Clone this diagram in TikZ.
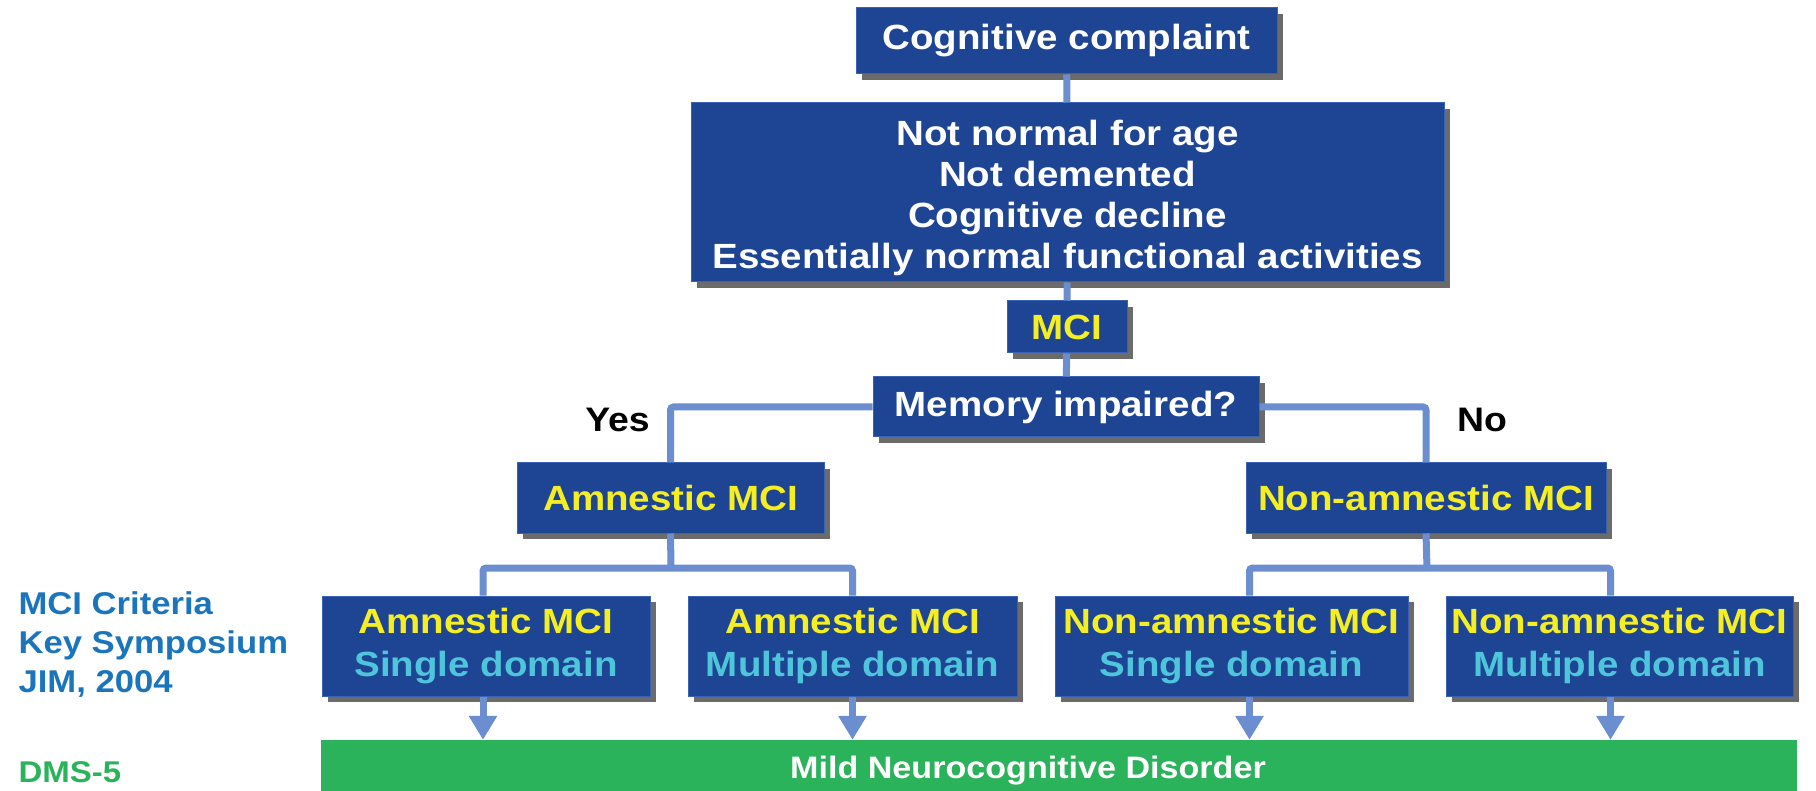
\documentclass[tikz,border=0pt]{standalone}
\usepackage{fontspec}
\setmainfont{Liberation Sans}[FakeStretch=1.1]
\usetikzlibrary{arrows.meta,shadows}

\begin{document}
\begin{tikzpicture}[x=1pt,y=1pt,
    box/.style={draw=boxEdge, line width=1pt, fill=boxFill, inner sep=0pt, align=center,
        font=\fontsize{35}{41}\selectfont\bfseries,
        drop shadow={shadow xshift=6pt, shadow yshift=-6pt, fill=boxShadow, opacity=1}},
    subbox/.style={box, minimum height=100pt, font=\fontsize{35}{43}\selectfont\bfseries},
    link/.style={draw=linkColour, line width=7pt, rounded corners=3pt},
    linkarrow/.style={link, -{Triangle[width=27pt,length=24pt]}},
    answer/.style={font=\fontsize{34}{40}\selectfont\bfseries},
    sidenote/.style={anchor=west, align=left, font=\fontsize{31.5}{39}\selectfont\bfseries}]

    % Colours
    \definecolor{boxFill}{HTML}{1E4594}
    \definecolor{boxEdge}{HTML}{3A62B4}
    \definecolor{boxShadow}{HTML}{6B6B6B}
    \definecolor{linkColour}{HTML}{6A8ED0}
    \definecolor{mciYellow}{HTML}{F5EE23}
    \definecolor{domainCyan}{HTML}{4EC5DA}
    \definecolor{dsmGreen}{HTML}{2BB35B}
    \definecolor{noteBlue}{HTML}{1B75BC}

    % Fix the page size
    \useasboundingbox (0,0) rectangle (1816,-791);

    % Top boxes
    \node[box, text=white, minimum width=421pt, minimum height=66pt] (cc) at (1066.5,-41) {Cognitive complaint};
    \node[box, text=white, minimum width=753pt, minimum height=179pt] (crit) at (1067.5,-192.5)
        {\rule{0pt}{36pt}Not normal for age\\Not demented\\Cognitive decline\\Essentially normal functional activities};
    \node[box, text=mciYellow, minimum width=120pt, minimum height=52pt] (mci) at (1067,-327) {MCI};
    \node[box, text=white, minimum width=386pt, minimum height=60pt] (mem) at (1066,-407) {Memory impaired?};

    % Second level
    \node[box, text=mciYellow, minimum width=307pt, minimum height=70pt] (amn) at (670.5,-498) {Amnestic MCI};
    \node[box, text=mciYellow, minimum width=360pt, minimum height=70pt] (non) at (1426,-498) {Non-amnestic MCI};

    % Third level
    \node[subbox, minimum width=328pt] (amnSingle) at (486,-646)
        {\textcolor{mciYellow}{Amnestic MCI}\\\textcolor{domainCyan}{Single domain}};
    \node[subbox, minimum width=329pt] (amnMulti) at (852.5,-646)
        {\textcolor{mciYellow}{Amnestic MCI}\\\textcolor{domainCyan}{Multiple domain}};
    \node[subbox, minimum width=353pt] (nonSingle) at (1231.5,-646)
        {\textcolor{mciYellow}{Non-amnestic MCI}\\\textcolor{domainCyan}{Single domain}};
    \node[subbox, minimum width=347pt] (nonMulti) at (1619.5,-646)
        {\textcolor{mciYellow}{Non-amnestic MCI}\\\textcolor{domainCyan}{Multiple domain}};

    % DSM-5 bar
    \node[fill=dsmGreen, inner sep=0pt, minimum width=1476pt, minimum height=51pt,
        label={[xshift=-31pt, yshift=-5pt, text=white, font=\fontsize{31}{36}\selectfont\bfseries]center:Mild Neurocognitive Disorder}]
        (mnd) at (1059,-765.5) {};

    % Side notes
    \node[sidenote, text=noteBlue] (criteria) at (15,-645) {MCI Criteria\\Key Symposium\\JIM, 2004};
    \node[sidenote, text=dsmGreen, font=\fontsize{30}{36}\selectfont\bfseries] (dsm) at (15,-772) {DMS-5};

    % Answers
    \node[answer] (yes) at (617.5,-420) {Yes};
    \node[answer] (no) at (1482,-420) {No};

    % Split points
    \coordinate (amnSplit) at (671,-568);
    \coordinate (nonSplit) at (1427,-568);
    \coordinate (amnSingleOut) at ([xshift=-3pt]amnSingle.south);
    \coordinate (amnMultiOut) at (amnMulti.south);
    \coordinate (nonSingleOut) at ([xshift=18pt]nonSingle.south);
    \coordinate (nonMultiOut) at ([xshift=-9pt]nonMulti.south);

    % Connectors
    \draw[link] (cc) -- (crit);
    \draw[link] (crit) -- (mci);
    \draw[link] (mci) -- (mem);
    \draw[link] (mem.west) -| (amn.north);
    \draw[link] (mem.east) -| (non.north);
    \draw[link] (amn.south) -- (amnSplit);
    \draw[link] (amnSplit) -| ([xshift=-3pt]amnSingle.north);
    \draw[link] (amnSplit) -| (amnMulti.north);
    \draw[link] (non.south) -- (nonSplit);
    \draw[link] (nonSplit) -| ([xshift=18pt]nonSingle.north);
    \draw[link] (nonSplit) -| ([xshift=-9pt]nonMulti.north);

    % Arrows into the bar
    \foreach \src in {amnSingleOut,amnMultiOut,nonSingleOut,nonMultiOut}
        \draw[linkarrow] (\src) -- (\src |- mnd.north);

\end{tikzpicture}
\end{document}
